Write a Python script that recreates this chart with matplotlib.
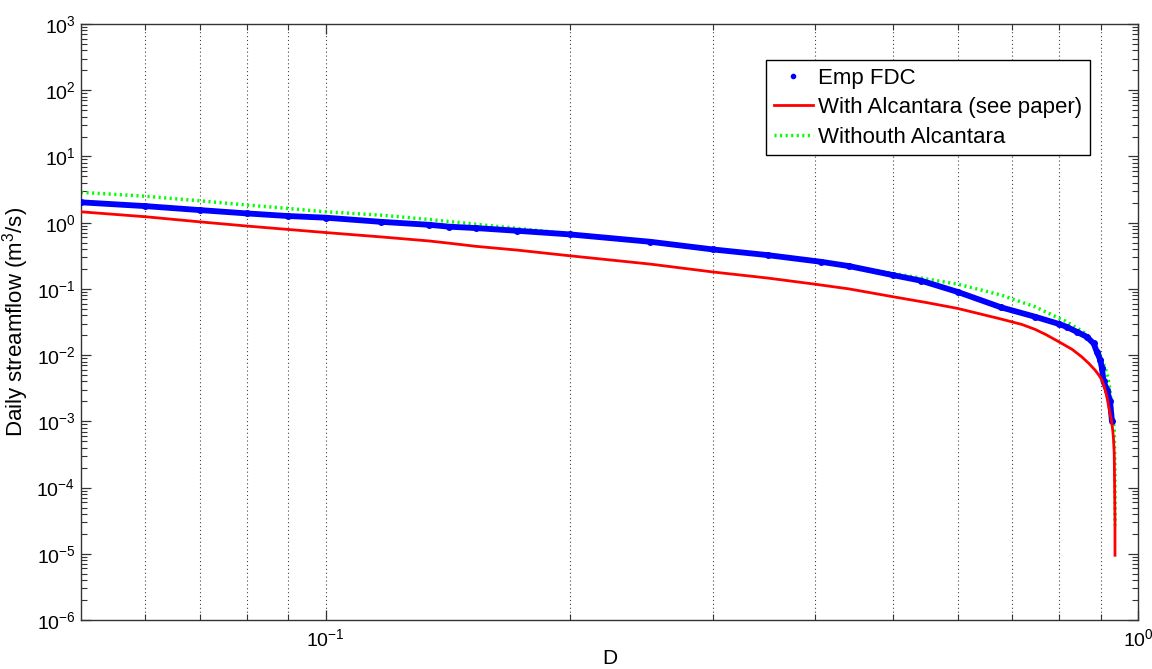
import numpy as np
import matplotlib
matplotlib.use('Agg')
import matplotlib.pyplot as plt
from matplotlib.lines import Line2D
from matplotlib.ticker import FixedLocator, NullFormatter, FuncFormatter

plt.rcParams['font.family'] = ['Liberation Sans', 'DejaVu Sans']
plt.rcParams['mathtext.fontset'] = 'custom'
plt.rcParams['mathtext.rm'] = 'Liberation Sans'
plt.rcParams['mathtext.it'] = 'Liberation Sans'

# ── data ────────────────────────────────────────────────────────────────────
# empirical flow duration curve (duration D, streamflow Q)
emp_d = [0.05, 0.06, 0.07, 0.08, 0.09, 0.10, 0.117, 0.134, 0.142, 0.153,
         0.172, 0.20, 0.251, 0.30, 0.35, 0.407, 0.441, 0.50, 0.541, 0.60,
         0.679, 0.747, 0.80, 0.817, 0.841, 0.865, 0.882, 0.890, 0.899,
         0.903, 0.907, 0.916, 0.924, 0.929]
emp_q = [2.03, 1.78, 1.55, 1.38, 1.26, 1.19, 1.03, 0.93, 0.87, 0.83,
         0.755, 0.665, 0.515, 0.394, 0.324, 0.257, 0.221, 0.161, 0.133, 0.090,
         0.0525, 0.038, 0.0295, 0.0267, 0.0225, 0.0189, 0.015, 0.0112, 0.0084,
         0.0063, 0.004, 0.003, 0.002, 0.001]

# model with Alcantara
alc_d = [0.05, 0.06, 0.07, 0.08, 0.09, 0.10, 0.117, 0.134, 0.142, 0.153,
         0.172, 0.20, 0.251, 0.30, 0.35, 0.40, 0.441, 0.50, 0.55, 0.60,
         0.679, 0.72, 0.747, 0.77, 0.80, 0.83, 0.853, 0.87, 0.886, 0.895,
         0.903, 0.91, 0.916, 0.924, 0.928, 0.931, 0.933, 0.935, 0.937, 0.937]
alc_q = [1.46, 1.23, 1.03, 0.89, 0.79, 0.71, 0.61, 0.53, 0.49, 0.44,
         0.386, 0.316, 0.237, 0.18, 0.146, 0.118, 0.10, 0.076, 0.062, 0.0507,
         0.035, 0.029, 0.0245, 0.0205, 0.0158, 0.0122, 0.0094, 0.0075, 0.0059, 0.0050,
         0.0042, 0.0032, 0.0023, 0.0013, 0.0010, 0.00074, 0.00055, 0.00033, 3.2e-5, 9.5e-6]

# model without Alcantara
noalc_d = [0.05, 0.06, 0.07, 0.08, 0.09, 0.10, 0.117, 0.134, 0.153, 0.20,
           0.30, 0.40, 0.441, 0.50, 0.60, 0.679, 0.747, 0.80, 0.813, 0.861,
           0.899, 0.916, 0.924, 0.929, 0.935, 0.937, 0.9372]
noalc_q = [2.87, 2.51, 2.14, 1.85, 1.64, 1.46, 1.30, 1.12, 0.95, 0.68,
           0.40, 0.27, 0.225, 0.171, 0.118, 0.0806, 0.0537, 0.036, 0.033, 0.0214,
           0.01, 0.0053, 0.003, 0.0015, 7.4e-4, 1.8e-4, 2.7e-5]

# axis ticks (only what is inside the view)
y_major = [10.0 ** k for k in range(-6, 4)]
y_minor = [m * 10.0 ** k for k in range(-6, 3) for m in range(2, 10)]
x_major = [0.1, 1.0]
x_minor = [0.06, 0.07, 0.08, 0.09, 0.2, 0.3, 0.4, 0.5, 0.6, 0.7, 0.8, 0.9]

GREEN_DOTS = (0, (0.6, 1.0))


def pow10_label(v, pos):
    k = int(round(np.log10(v)))
    return r'$10^{%d}$' % k


# ── figure ──────────────────────────────────────────────────────────────────
fig = plt.figure(figsize=(11.52, 6.69), dpi=100)
ax = fig.add_axes([0.0703, 0.0732, 0.9175, 0.8909])

ax.plot(emp_d, emp_q, color='b', lw=4.2, solid_capstyle='butt', zorder=3)
ax.plot(emp_d, emp_q, ls='none', marker='o', ms=4, color='b', zorder=3)
ax.plot(alc_d, alc_q, color='r', lw=2, zorder=4)
ax.plot(noalc_d, noalc_q, color='#00ff00', lw=2.5, ls=GREEN_DOTS, zorder=2)

ax.set_xscale('log')
ax.set_yscale('log')
ax.set_xlim(0.05, 1)
ax.set_ylim(1e-6, 1e3)

ax.yaxis.set_major_locator(FixedLocator(y_major))
ax.yaxis.set_minor_locator(FixedLocator(y_minor))
ax.xaxis.set_major_locator(FixedLocator(x_major))
ax.xaxis.set_minor_locator(FixedLocator(x_minor))
ax.yaxis.set_major_formatter(FuncFormatter(pow10_label))
ax.xaxis.set_major_formatter(FuncFormatter(pow10_label))
ax.yaxis.set_minor_formatter(NullFormatter())
ax.xaxis.set_minor_formatter(NullFormatter())

ax.tick_params(which='both', direction='in', top=True, right=True,
               labelsize=14, colors='#333333', labelcolor='black')
ax.tick_params(axis='x', which='major', pad=6)
ax.tick_params(axis='y', which='major', pad=4)
ax.tick_params(which='major', length=7, width=0.9)
ax.tick_params(which='minor', length=4.3, width=0.8)
for s in ax.spines.values():
    s.set_linewidth(1.0)
    s.set_color('#333333')

ax.xaxis.grid(True, which='both', ls=(0, (1, 2.5)), color='k', lw=0.8, alpha=0.75)
ax.yaxis.grid(False, which='both')

ax.set_xlabel('D', fontsize=15, labelpad=-1)
ax.set_ylabel('Daily streamflow (m$^3$/s)', fontsize=16)
ax.yaxis.set_label_coords(-0.047, 0.5)

handles = [Line2D([], [], ls='none', marker='.', ms=6, color='b'),
           Line2D([], [], color='r', lw=2),
           Line2D([], [], color='#00ff00', lw=2.5, ls=GREEN_DOTS)]
labels = ['Emp FDC', 'With Alcantara (see paper)', 'Withouth Alcantara']
leg = ax.legend(handles, labels, loc='upper right',
                bbox_to_anchor=(0.9546, 0.9396), fontsize=16,
                fancybox=False, framealpha=1, edgecolor='k',
                handlelength=1.75, handletextpad=0.25, labelspacing=0.38,
                borderpad=0.35, borderaxespad=0)
leg.get_frame().set_linewidth(1.0)

fig.savefig('out.png', dpi=100)
